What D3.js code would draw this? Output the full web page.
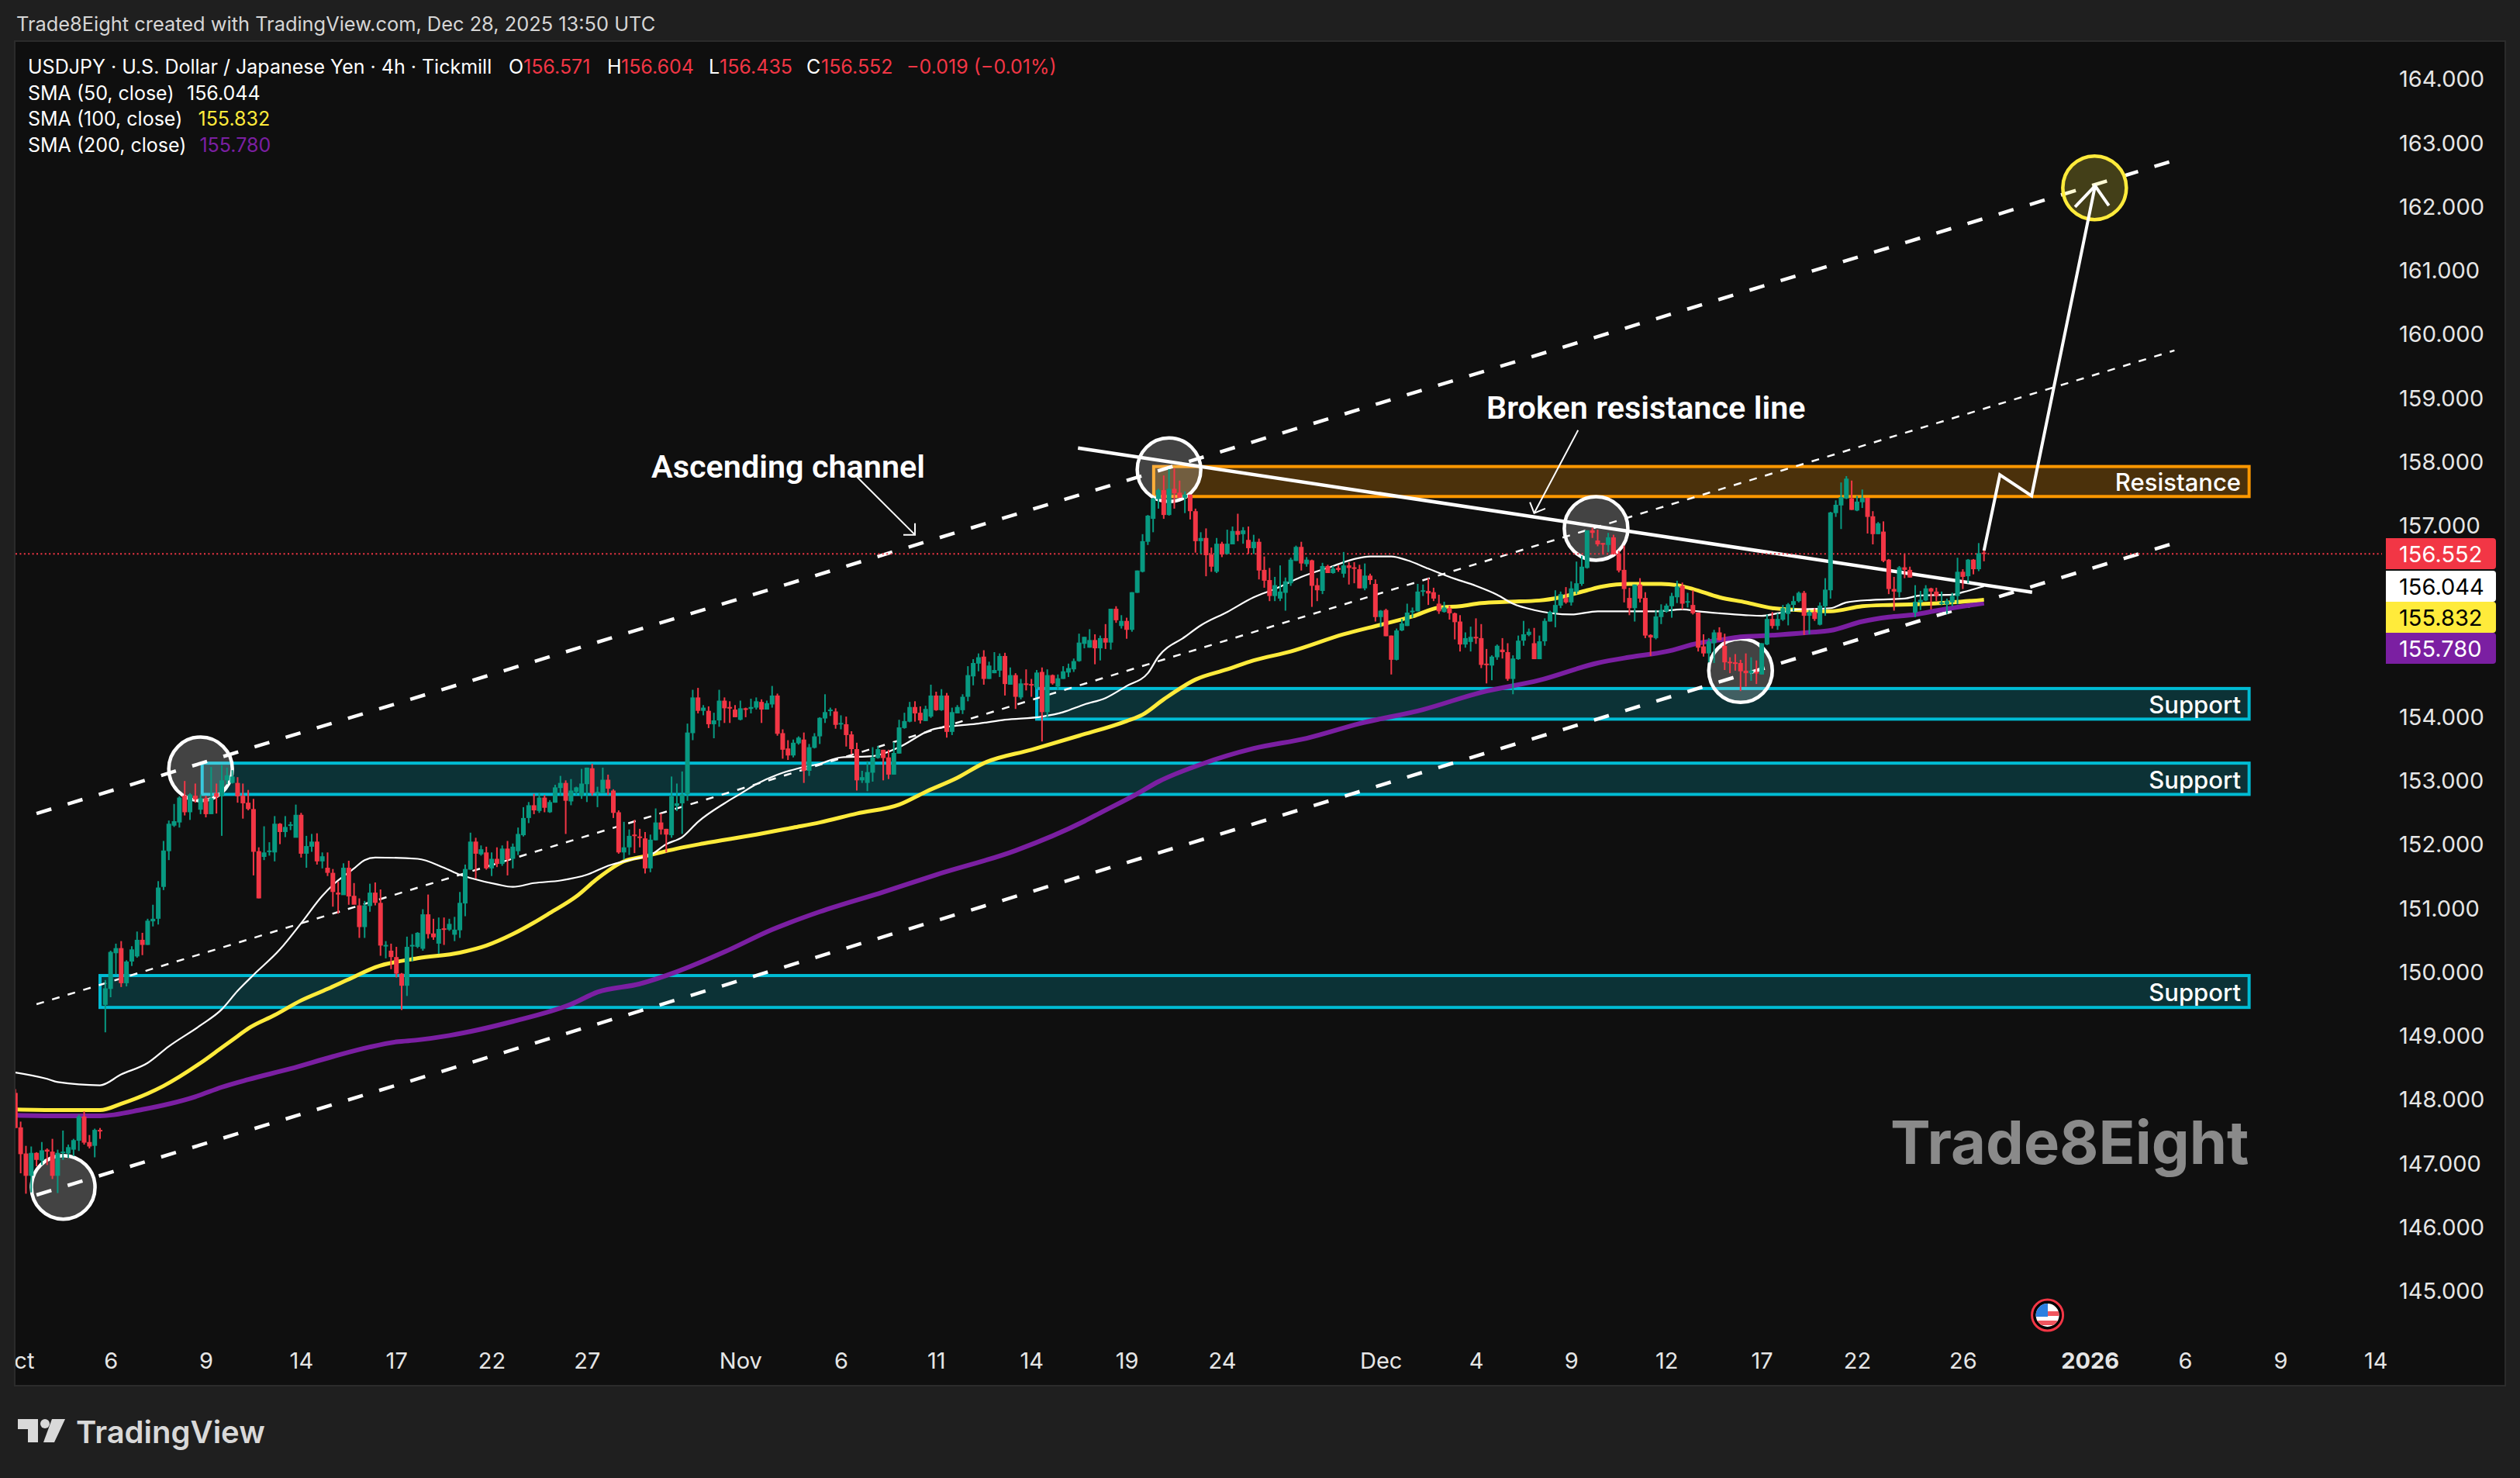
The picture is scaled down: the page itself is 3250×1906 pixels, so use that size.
<!DOCTYPE html>
<html>
<head>
<meta charset="utf-8">
<script src="https://cdn.jsdelivr.net/npm/d3@7"></script>
<style>
  html, body { margin: 0; padding: 0; background: #1f1f1f; }
  svg { display: block; }
  text { font-family: Inter, "Noto Sans", sans-serif; }
</style>
</head>
<body>
<svg id="chart" width="3250" height="1906"></svg>
<script>
// 4h bars, one line = 10 bars, last bar is the live one
var opens = [
148.1,147.56,147.15,146.8,147.16,147.04,147.21,147.18,146.8,147.16,
147.15,147.21,147.35,147.73,147.33,147.27,147.52,149.48,149.73,150.29,
150.37,149.82,150.16,150.24,150.5,150.42,150.79,150.83,151.33,151.89,
152.29,152.34,152.76,152.5,152.76,152.54,152.72,152.47,152.8,152.75,
153.0,152.96,152.96,152.76,152.65,152.55,151.89,151.8,151.88,151.87,
152.32,152.19,152.29,152.1,152.46,151.85,151.96,152.04,151.73,151.63,
151.55,151.24,151.2,151.63,151.19,151.04,150.7,151.03,151.24,151.08,
150.41,150.33,150.23,149.97,149.78,150.4,150.39,150.36,150.9,150.6,
150.44,150.68,150.66,150.58,150.65,151.07,151.6,152.04,151.84,151.87,
151.62,151.77,151.69,151.93,151.77,151.89,152.14,152.41,152.61,152.52,
152.73,152.5,152.65,152.88,152.96,152.67,152.82,152.76,152.94,153.19,
152.8,152.8,153.01,152.84,152.5,151.87,151.95,152.15,152.12,152.09,
151.62,152.06,152.34,152.24,152.14,152.6,152.64,152.78,153.74,154.3,
154.09,154.09,153.88,153.94,154.25,154.15,154.11,153.95,154.13,154.12,
154.14,154.23,154.11,154.19,154.33,153.74,153.5,153.39,153.58,153.64,
153.15,153.51,153.69,153.97,154.09,154.08,153.88,153.88,153.72,153.49,
153.0,152.96,153.12,153.35,153.48,153.36,153.09,153.42,153.82,153.92,
154.15,154.06,153.93,154.0,154.33,154.1,154.33,153.76,154.05,154.1,
154.31,154.63,154.83,154.94,154.59,154.68,154.72,154.95,154.5,154.65,
154.3,154.52,154.51,154.46,154.7,154.07,154.65,154.47,154.59,154.69,
154.74,154.87,155.14,155.08,155.2,155.07,155.23,155.16,155.69,155.42,
155.5,155.36,155.94,156.27,156.74,157.1,157.41,157.55,157.16,157.57,
157.51,157.43,157.48,157.22,156.75,156.8,156.54,156.27,156.71,156.55,
156.7,156.91,156.86,156.77,156.64,156.74,156.3,156.14,155.89,155.85,
155.94,156.09,156.44,156.66,156.39,156.45,156.06,155.97,156.36,156.25,
156.33,156.24,156.37,156.34,156.31,156.01,156.21,156.08,155.56,155.67,
155.27,154.89,155.35,155.42,155.65,155.65,155.96,155.97,155.95,155.77,
155.64,155.7,155.62,155.49,155.13,155.17,155.25,155.23,154.83,154.8,
154.93,155.05,155.01,154.59,154.9,155.19,155.28,155.15,154.9,155.18,
155.49,155.63,155.74,155.86,155.79,155.96,156.08,156.33,156.92,156.76,
156.72,156.69,156.81,156.55,156.3,155.86,155.7,156.07,155.86,155.28,
155.23,155.56,155.65,155.73,155.87,156.05,155.8,155.75,155.63,155.1,
154.99,155.15,155.32,155.11,154.86,154.85,154.84,154.72,154.68,154.7,
154.66,155.13,155.53,155.42,155.52,155.61,155.75,155.81,155.94,155.58,
155.64,155.44,155.73,155.98,157.19,157.31,157.42,157.42,157.23,157.36,
157.43,157.14,156.86,156.9,156.46,156.0,155.95,156.34,156.3,155.63,
155.79,155.82,156.01,155.96,155.77,155.76,155.79,155.89,156.27,156.2,
156.46,156.31,156.571]

var closes = [
147.55,147.14,146.8,147.16,147.05,147.2,147.18,146.8,147.16,147.18,
147.25,147.36,147.73,147.32,147.26,147.52,147.5,149.74,150.31,150.37,
149.82,150.16,150.35,150.5,150.42,150.8,150.83,151.32,151.9,152.32,
152.36,152.73,152.5,152.78,152.7,152.72,152.47,152.72,152.74,153.0,
153.08,153.06,152.75,152.64,152.55,151.88,151.15,151.87,151.9,152.32,
152.19,152.27,152.31,152.46,151.85,151.97,152.04,151.73,151.81,151.55,
151.25,151.21,151.63,151.18,151.05,150.7,151.04,151.24,151.08,150.41,
150.42,150.23,149.97,149.78,150.39,150.42,150.61,150.9,150.59,150.54,
150.67,150.66,150.75,150.66,151.08,151.61,152.04,151.85,151.92,151.62,
151.77,151.69,151.93,151.76,151.96,152.16,152.41,152.61,152.53,152.73,
152.57,152.66,152.89,152.96,152.68,152.84,152.89,152.95,153.2,152.8,
152.82,153.01,152.87,152.49,151.87,151.95,152.13,152.13,152.11,151.62,
152.07,152.34,152.23,152.15,152.75,152.64,152.78,153.75,154.3,154.09,
154.14,153.88,153.94,154.25,154.13,154.13,153.99,154.13,154.12,154.15,
154.24,154.11,154.21,154.33,153.73,153.48,153.39,153.59,153.67,153.15,
153.52,153.69,153.98,154.07,154.11,153.87,153.9,153.71,153.49,153.0,
153.05,153.13,153.36,153.49,153.35,153.09,153.43,153.83,153.93,154.15,
154.05,153.94,154.12,154.33,154.1,154.33,153.76,154.07,154.15,154.31,
154.65,154.84,154.93,154.59,154.8,154.73,154.95,154.51,154.65,154.31,
154.52,154.5,154.5,154.69,154.07,154.65,154.52,154.6,154.71,154.76,
154.87,155.16,155.25,155.2,155.07,155.23,155.16,155.69,155.51,155.5,
155.36,155.95,156.29,156.75,157.15,157.42,157.55,157.16,157.57,157.5,
157.43,157.48,157.22,156.75,156.8,156.53,156.35,156.71,156.54,156.71,
156.91,156.85,156.92,156.64,156.74,156.29,156.13,155.89,156.06,155.96,
156.12,156.46,156.66,156.4,156.46,156.05,155.98,156.36,156.25,156.32,
156.3,156.37,156.33,156.33,156.01,156.21,156.14,155.56,155.66,155.26,
154.89,155.35,155.46,155.63,155.66,155.96,155.98,155.93,155.85,155.65,
155.71,155.62,155.48,155.13,155.23,155.25,155.23,154.81,154.81,154.94,
155.11,155.01,154.59,154.91,155.19,155.29,155.33,154.9,155.18,155.5,
155.64,155.75,155.92,155.79,156.01,156.09,156.35,156.92,156.88,156.7,
156.71,156.81,156.55,156.29,156.0,155.7,156.07,155.85,155.27,155.24,
155.57,155.67,155.74,155.89,156.04,155.77,155.81,155.62,155.08,154.99,
155.18,155.32,155.2,154.85,154.84,154.84,154.71,154.68,154.72,154.69,
155.15,155.53,155.42,155.53,155.7,155.76,155.81,155.94,155.58,155.64,
155.53,155.74,155.99,157.2,157.32,157.44,157.73,157.24,157.37,157.43,
157.13,156.86,157.03,156.44,156.0,155.96,156.34,156.3,156.18,155.8,
155.83,156.01,155.96,155.89,155.79,155.81,155.89,156.27,156.19,156.46,
156.31,156.56,156.552]

var highs = [
148.16,147.65,147.27,147.26,147.17,147.33,147.23,147.38,147.21,147.51,
147.29,147.38,147.76,147.81,147.44,147.54,147.55,149.87,150.33,150.44,
150.48,150.18,150.4,150.63,150.61,150.83,151.05,151.42,152.05,152.37,
152.63,152.75,152.99,152.8,152.95,152.78,152.76,153.21,152.95,153.24,
153.2,153.16,153.05,152.95,152.85,152.71,151.95,152.28,152.03,152.44,
152.33,152.44,152.35,152.62,152.49,152.13,152.16,152.17,151.87,151.87,
151.61,151.41,151.7,151.74,151.39,151.15,151.11,151.38,151.4,151.29,
150.48,150.44,150.39,149.98,150.55,150.59,150.62,150.98,151.21,150.83,
150.85,150.85,150.83,150.86,151.25,151.68,152.18,152.1,151.98,151.96,
151.87,151.95,151.98,152.05,152.01,152.26,152.58,152.66,152.79,152.8,
152.77,152.69,152.93,153.07,153.0,153.02,152.9,153.18,153.2,153.26,
152.9,153.2,153.09,152.86,152.53,152.35,152.23,152.38,152.24,152.19,
152.15,152.56,152.48,152.24,153.06,152.95,153.14,153.89,154.42,154.45,
154.18,154.16,154.06,154.42,154.3,154.24,154.18,154.25,154.14,154.28,
154.3,154.27,154.25,154.48,154.36,153.8,153.63,153.64,153.69,153.75,
153.57,153.74,153.99,154.35,154.14,154.13,154.02,154.0,153.77,153.59,
153.15,153.3,153.52,153.54,153.48,153.48,153.6,153.95,154.06,154.23,
154.24,154.16,154.17,154.5,154.39,154.43,154.37,154.14,154.18,154.35,
154.79,154.9,154.99,155.04,154.86,155.01,154.99,155.0,154.77,154.68,
154.59,154.74,154.59,154.73,154.77,154.74,154.66,154.66,154.79,154.83,
154.91,155.3,155.25,155.37,155.29,155.27,155.45,155.69,155.73,155.59,
155.55,155.95,156.29,156.86,157.16,157.43,157.57,157.78,157.88,157.89,
157.7,157.53,157.48,157.26,156.89,156.95,156.65,156.8,156.74,156.93,
156.98,157.18,156.97,156.98,156.85,156.79,156.51,156.33,156.19,156.37,
156.18,156.49,156.68,156.74,156.5,156.46,156.17,156.41,156.38,156.36,
156.37,156.58,156.42,156.42,156.38,156.4,156.24,156.15,155.67,155.69,
155.27,155.38,155.53,155.77,155.71,156.08,156.07,156.17,156.02,155.91,
155.8,155.74,155.63,155.59,155.32,155.41,155.54,155.45,155.06,154.96,
155.13,155.23,155.15,154.96,155.27,155.5,155.38,155.39,155.27,155.54,
155.66,155.98,155.96,156.03,156.12,156.43,156.52,156.92,156.96,156.93,
156.72,156.88,156.85,156.6,156.68,156.02,156.07,156.17,155.95,155.29,
155.67,155.76,155.77,155.94,156.13,156.1,155.94,155.98,155.63,155.29,
155.23,155.36,155.4,155.3,154.93,154.98,154.89,154.99,154.93,154.88,
155.15,155.6,155.64,155.62,155.75,155.78,155.89,155.96,155.97,155.67,
155.7,155.79,156.17,157.21,157.39,157.67,157.77,157.7,157.46,157.56,
157.43,157.22,157.05,157.06,156.47,156.19,156.36,156.55,156.35,156.06,
155.97,156.06,156.02,156.02,155.96,155.85,155.94,156.49,156.31,156.47,
156.47,156.72,156.604]

var lows = [
147.55,146.84,146.52,146.54,146.95,146.97,146.97,146.75,146.53,147.05,
147.08,147.11,147.19,147.29,147.23,147.09,147.38,149.05,149.6,149.96,
149.76,149.77,150.09,150.22,150.26,150.42,150.71,150.74,151.28,151.75,
152.27,152.26,152.45,152.38,152.65,152.47,152.42,152.47,152.48,152.13,
152.94,152.95,152.65,152.4,152.53,151.51,151.15,151.75,151.82,151.73,
152.0,152.11,152.22,152.11,151.79,151.63,151.88,151.68,151.62,151.5,
151.02,150.91,151.21,151.05,151.06,150.53,150.53,150.94,151.04,150.25,
150.21,150.04,149.91,149.4,149.62,150.16,150.37,150.33,150.52,150.5,
150.28,150.42,150.64,150.48,150.53,150.87,151.6,151.46,151.82,151.6,
151.5,151.64,151.66,151.51,151.62,151.83,152.12,152.33,152.47,152.49,
152.5,152.49,152.65,152.76,152.16,152.61,152.77,152.71,152.66,152.76,
152.58,152.8,152.77,152.41,151.85,151.76,151.83,151.86,151.95,151.54,
151.56,152.06,152.15,151.87,152.1,152.52,152.16,152.68,153.63,154.05,
154.02,153.82,153.66,153.84,153.9,153.9,153.99,153.94,153.99,154.05,
154.11,153.9,154.11,154.14,153.7,153.34,153.32,153.36,153.56,152.96,
153.07,153.5,153.57,153.9,154.01,153.81,153.8,153.53,153.41,152.84,
152.96,152.83,152.98,153.34,153.0,153.02,153.09,153.42,153.81,153.91,
153.92,153.89,153.93,153.98,154.09,154.09,153.67,153.71,154.05,154.04,
154.24,154.49,154.71,154.5,154.59,154.68,154.62,154.33,154.5,154.12,
154.27,154.41,154.31,154.43,153.61,153.98,154.5,154.42,154.59,154.62,
154.7,154.86,155.07,155.08,154.82,154.88,155.06,155.05,155.47,155.38,
155.22,155.33,155.94,156.26,156.69,156.89,157.26,157.1,157.15,157.26,
157.43,157.19,157.09,156.57,156.55,156.2,156.27,156.25,156.5,156.54,
156.7,156.75,156.71,156.55,156.55,156.15,156.02,155.81,155.81,155.81,
155.66,156.05,156.44,156.29,156.35,155.72,155.81,155.92,156.25,156.24,
156.27,156.18,156.07,156.09,156.01,155.98,156.07,155.49,155.4,155.26,
154.66,154.88,155.34,155.42,155.55,155.65,155.89,155.75,155.81,155.61,
155.63,155.52,155.21,155.02,155.08,155.02,155.14,154.76,154.52,154.57,
154.89,154.91,154.56,154.35,154.89,155.11,155.26,154.9,154.9,155.11,
155.49,155.4,155.7,155.77,155.74,155.92,156.05,156.32,156.8,156.67,
156.54,156.58,156.54,156.26,155.79,155.59,155.49,155.79,155.23,154.95,
155.21,155.45,155.63,155.55,155.78,155.68,155.71,155.6,155.02,154.94,
154.85,154.84,155.19,154.73,154.68,154.72,154.4,154.47,154.56,154.51,
154.66,155.12,155.38,155.36,155.5,155.43,155.65,155.79,155.28,155.29,
155.5,155.43,155.58,155.85,157.13,156.94,157.41,157.24,157.22,157.27,
156.87,156.7,156.86,156.42,155.92,155.66,155.87,156.17,156.18,155.56,
155.67,155.81,155.68,155.81,155.75,155.61,155.73,155.76,156.0,156.09,
156.23,156.28,156.435]

// moving averages, [bar, value]
var sma50 = [[0,148.42],[6,148.32],[8,148.27],[16,148.22],[20,148.39],[25,148.57],[29,148.83],[35,149.16],[39,149.41],[42,149.7],[45,149.95],[50,150.35],[54,150.76],[58,151.19],[60,151.36],[64,151.62],[66,151.75],[68,151.79],[76,151.77],[81,151.63],[84,151.52],[86,151.47],[91,151.37],[94,151.33],[98,151.39],[103,151.43],[108,151.52],[112,151.66],[117,151.77],[120,151.83],[123,152.0],[126,152.11],[129,152.35],[134,152.64],[137,152.79],[140,152.94],[144,153.09],[148,153.19],[152,153.26],[156,153.36],[162,153.38],[167,153.52],[173,153.79],[177,153.85],[182,153.89],[187,153.95],[194,154.0],[198,154.07],[202,154.19],[206,154.29],[210,154.48],[214,154.68],[216,154.94],[221,155.25],[224,155.43],[229,155.64],[234,155.87],[238,156.0],[243,156.19],[249,156.36],[253,156.47],[256,156.51],[260,156.51],[263,156.45],[267,156.32],[272,156.16],[276,156.05],[280,155.91],[283,155.77],[287,155.67],[294,155.6],[299,155.65],[305,155.65],[310,155.65],[315,155.68],[318,155.65],[322,155.62],[327,155.59],[330,155.58],[333,155.62],[337,155.68],[343,155.7],[346,155.79],[351,155.83],[357,155.85],[360,155.9],[366,155.91],[368,155.95],[372,156.044]]

var sma100 = [[0,147.84],[8,147.83],[16,147.83],[20,147.93],[25,148.09],[28,148.21],[35,148.57],[39,148.81],[42,148.99],[44,149.11],[49,149.32],[54,149.55],[59,149.73],[64,149.92],[68,150.07],[76,150.21],[84,150.3],[89,150.41],[94,150.59],[98,150.77],[101,150.92],[106,151.18],[110,151.46],[115,151.73],[119,151.81],[125,151.93],[130,152.01],[140,152.15],[147,152.26],[152,152.34],[159,152.48],[167,152.62],[172,152.82],[178,153.04],[183,153.27],[192,153.48],[201,153.7],[210,153.93],[213,154.03],[217,154.27],[223,154.58],[229,154.74],[234,154.88],[241,155.02],[251,155.29],[258,155.44],[264,155.57],[269,155.71],[273,155.73],[277,155.78],[282,155.8],[288,155.82],[292,155.87],[297,155.98],[300,156.04],[305,156.08],[311,156.08],[314,156.06],[317,156.0],[322,155.87],[327,155.79],[332,155.7],[337,155.67],[343,155.65],[349,155.73],[354,155.75],[359,155.76],[366,155.79],[372,155.832]]

var sma200 = [[0,147.75],[8,147.74],[16,147.74],[24,147.84],[34,148.04],[39,148.19],[44,148.31],[52,148.48],[60,148.67],[67,148.82],[72,148.9],[76,148.93],[82,149.0],[94,149.22],[105,149.49],[110,149.68],[118,149.81],[125,150.0],[134,150.31],[143,150.66],[152,150.94],[164,151.25],[174,151.52],[189,151.9],[202,152.36],[205,152.49],[212,152.79],[216,152.98],[224,153.25],[234,153.5],[244,153.66],[254,153.89],[266,154.11],[277,154.38],[288,154.57],[299,154.84],[305,154.93],[312,155.02],[318,155.15],[322,155.2],[326,155.25],[331,155.27],[339,155.32],[343,155.35],[349,155.49],[354,155.56],[359,155.6],[363,155.66],[372,155.78]]

var priceTicks = [145,146,147,148,149,150,151,152,153,154,155,156,157,158,159,160,161,162,163,164]
var timeTicks = [0,18,36,54,72,90,108,137,156,174,192,210,228,258,276,294,312,330,348,368,392,410,428,446]
var timeLabels = ['Oct','6','9','14','17','22','27','Nov','6','11','14','19','24','Dec','4','9','12','17','22','26','2026','6','9','14']

// drawings, all in [bar, price]
var channelLines = [
  {pts: [[4,152.48],[408,162.72]], w: 4.5, dash: '20,22'},
  {pts: [[4,149.49],[408,159.74]], w: 2.5, dash: '10,11'},
  {pts: [[4,146.5],[408,156.72]], w: 4.5, dash: '20,22'}
]
var supportZones = [
  {left: 193, top: 154.44, bottom: 153.96},
  {left: 35.3, top: 153.27, bottom: 152.78},
  {left: 16, top: 149.94, bottom: 149.44}
]
var resistanceZone = {left: 215.1, top: 157.92, bottom: 157.45}
var zoneRight = 422.1
var touchCircles = [[9.05,146.62],[35,153.18],[218,157.87],[298.7,156.95],[326,154.72]]
var targetCircle = [392.9,162.29]
var brokenLine = [[200.8,158.21],[381.1,155.95]]
var forecastPath = [[372,156.6],[375,157.79],[381,157.46],[393,162.32]]
var forecastHead = [[389.2,161.99],[393,162.32],[395.6,162.01]]
var channelArrow = [[159,157.76],[170,156.85]]
var channelArrowHead = [[170,157.03],[170,156.85],[167.8,156.85]]
var brokenArrow = [[295.3,158.49],[287,157.19]]
var brokenArrowHead = [[286.2,157.36],[287,157.19],[289.1,157.26]]

var lastTags = [
  {value: 156.552, text: '156.552', y: 714, fill: '#f23645', color: '#fff'},
  {value: 156.044, text: '156.044', y: 756, fill: '#ffffff', color: '#000'},
  {value: 155.832, text: '155.832', y: 796, fill: '#ffeb3b', color: '#000'},
  {value: 155.780, text: '155.780', y: 836, fill: '#7b1fa2', color: '#fff'}
]

var upColor = '#089981', downColor = '#f23645'
var cyan = '#00bcd4', orange = '#ff9800', yellow = '#ffeb3b', purple = '#7b1fa2'

var svg = d3.select('#chart')

var x = d3.scaleLinear().domain([0, 372]).range([19.8, 2558.7])
var y = d3.scaleLinear().domain([145, 164]).range([1664.4, 101.5])
var line = d3.line().x(function(d) { return x(d[0]) }).y(function(d) { return y(d[1]) })
var smooth = d3.line().x(function(d) { return x(d[0]) }).y(function(d) { return y(d[1]) }).curve(d3.curveMonotoneX)

// page frame
svg.append('rect').attr('width', 3250).attr('height', 1906).attr('fill', '#1f1f1f')
svg.append('rect').attr('x', 19).attr('y', 53).attr('width', 3212).attr('height', 1734)
  .attr('fill', '#0f0f0f').attr('stroke', '#2b2b2b').attr('stroke-width', 2)

var defs = svg.append('defs')
defs.append('clipPath').attr('id', 'plot').append('rect')
  .attr('x', 20).attr('y', 54).attr('width', 3055).attr('height', 1732)
defs.append('clipPath').attr('id', 'panel').append('rect')
  .attr('x', 20).attr('y', 54).attr('width', 3210).attr('height', 1732)
defs.append('clipPath').attr('id', 'flag').append('circle')
  .attr('cx', 2640.6).attr('cy', 1696).attr('r', 15)

var plot = svg.append('g').attr('clip-path', 'url(#plot)')

// zones
function drawZone(z, color, fill) {
  plot.append('rect')
    .attr('x', x(z.left)).attr('y', y(z.top))
    .attr('width', x(zoneRight) - x(z.left)).attr('height', y(z.bottom) - y(z.top))
    .attr('fill', fill).attr('stroke', color).attr('stroke-width', 4)
}
supportZones.forEach(function(z) { drawZone(z, cyan, 'rgba(0,188,212,0.2)') })
drawZone(resistanceZone, orange, 'rgba(255,152,0,0.25)')

function polyline(pts, w, dash) {
  plot.append('path').attr('d', line(pts)).attr('fill', 'none')
    .attr('stroke', '#fff').attr('stroke-width', w)
    .attr('stroke-dasharray', dash || null)
    .attr('stroke-linejoin', 'miter')
}

channelLines.forEach(function(l) { polyline(l.pts, l.w, l.dash) })

plot.selectAll('circle.touch').data(touchCircles).enter().append('circle')
  .attr('class', 'touch')
  .attr('cx', function(d) { return x(d[0]) }).attr('cy', function(d) { return y(d[1]) })
  .attr('r', 41).attr('fill', 'rgba(255,255,255,0.22)')
  .attr('stroke', '#fff').attr('stroke-width', 4.5)

plot.append('circle').attr('cx', x(targetCircle[0])).attr('cy', y(targetCircle[1])).attr('r', 41)
  .attr('fill', 'rgba(255,235,59,0.22)').attr('stroke', yellow).attr('stroke-width', 4.5)

polyline(brokenLine, 4.5)
polyline(forecastPath, 4)
polyline(forecastHead, 4)
polyline(channelArrow, 2)
polyline(channelArrowHead, 2)
polyline(brokenArrow, 2)
polyline(brokenArrowHead, 2)

// last price line
plot.append('line').attr('x1', 20).attr('x2', 3072)
  .attr('y1', y(156.552)).attr('y2', y(156.552))
  .attr('stroke', downColor).attr('stroke-width', 2).attr('stroke-dasharray', '2,3.4')

// averages
plot.append('path').attr('d', smooth(sma200)).attr('fill', 'none').attr('stroke', purple).attr('stroke-width', 6)
plot.append('path').attr('d', smooth(sma100)).attr('fill', 'none').attr('stroke', yellow).attr('stroke-width', 5)
plot.append('path').attr('d', smooth(sma50)).attr('fill', 'none').attr('stroke', '#fff').attr('stroke-width', 2.2)

// candles
var bars = d3.range(opens.length)
var candle = plot.selectAll('g.bar').data(bars).enter().append('g').attr('class', 'bar')
function barColor(i) { return closes[i] >= opens[i] ? upColor : downColor }
candle.append('rect')
  .attr('x', function(i) { return x(i) - 1 }).attr('width', 2)
  .attr('y', function(i) { return y(highs[i]) })
  .attr('height', function(i) { return y(lows[i]) - y(highs[i]) })
  .attr('fill', barColor)
candle.append('rect')
  .attr('x', function(i) { return x(i) - 3 }).attr('width', 6)
  .attr('y', function(i) { return y(Math.max(opens[i], closes[i])) })
  .attr('height', function(i) { return Math.max(2, Math.abs(y(opens[i]) - y(closes[i]))) })
  .attr('fill', barColor)

// annotation text
function note(str, px, py, size, weight, anchor, fill) {
  return svg.append('text').attr('x', px).attr('y', py)
    .attr('font-size', size).attr('font-weight', weight)
    .attr('text-anchor', anchor || 'start').attr('dominant-baseline', 'central')
    .attr('fill', fill || '#fff').text(str)
}
note('Ascending channel', 840, 602, 41.4, 600).style('font-family', 'Roboto')
note('Broken resistance line', 1917, 526, 41.4, 600).style('font-family', 'Roboto')
note('Resistance', 2890, y((resistanceZone.top + resistanceZone.bottom) / 2) + 1, 31, 500, 'end')
supportZones.forEach(function(z) {
  note('Support', 2890, y((z.top + z.bottom) / 2) + 1, 31, 500, 'end')
})
svg.append('text').attr('x', 2438).attr('y', 1501).attr('font-size', 77.6).attr('font-weight', 700)
  .attr('fill', '#8a8a8a').text('Trade8Eight')

// axes
var priceAxis = d3.axisRight(y).tickValues(priceTicks).tickFormat(d3.format('.3f')).tickSize(0).tickPadding(0)
var priceG = svg.append('g').attr('transform', 'translate(3094,1)').call(priceAxis)
priceG.select('.domain').remove()
priceG.selectAll('text').attr('fill', '#e6e6e6').attr('font-size', 29).attr('font-family', 'Inter')

var timeAxis = d3.axisBottom(x).tickValues(timeTicks)
  .tickFormat(function(d, i) { return timeLabels[i] }).tickSize(0).tickPadding(0)
var timeG = svg.append('g').attr('clip-path', 'url(#panel)').append('g').attr('transform', 'translate(0,1744)').call(timeAxis)
timeG.select('.domain').remove()
timeG.selectAll('text').attr('fill', '#e6e6e6').attr('font-size', 29).attr('font-family', 'Inter')
  .attr('font-weight', function(d, i) { return timeLabels[i] == '2026' ? 700 : 400 })

// value tags on the scale
lastTags.forEach(function(t) {
  svg.append('path')
    .attr('d', 'M3077,' + (t.y - 20) + 'h138a4,4 0 0 1 4,4v32a4,4 0 0 1 -4,4h-138z')
    .attr('fill', t.fill)
  note(t.text, 3094, t.y, 29, 400, 'start', t.color)
})

// header and legend
note('Trade8Eight created with TradingView.com, Dec 28, 2025 13:50 UTC', 21, 30.5, 25.4, 400, 'start', '#d6d6d6')
var legend = [
  ['USDJPY · U.S. Dollar / Japanese Yen · 4h · Tickmill', 36, 85.7, '#fff'],
  ['O', 656, 85.7, '#fff'], ['156.571', 675, 85.7, downColor],
  ['H', 783, 85.7, '#fff'], ['156.604', 801, 85.7, downColor],
  ['L', 914, 85.7, '#fff'], ['156.435', 928, 85.7, downColor],
  ['C', 1040, 85.7, '#fff'], ['156.552', 1059, 85.7, downColor],
  ['−0.019 (−0.01%)', 1169, 85.7, downColor],
  ['SMA (50, close)', 36, 119.5, '#fff'], ['156.044', 241, 119.5, '#fff'],
  ['SMA (100, close)', 36, 153, '#fff'], ['155.832', 255.5, 153, yellow],
  ['SMA (200, close)', 36, 187, '#fff'], ['155.780', 257.4, 187, purple]
]
legend.forEach(function(l) { note(l[0], l[1], l[2], 25, 400, 'start', l[3]) })

// earnings style flag marker
svg.append('circle').attr('cx', 2640.6).attr('cy', 1696).attr('r', 20)
  .attr('fill', '#000').attr('stroke', downColor).attr('stroke-width', 3)
var flag = svg.append('g').attr('clip-path', 'url(#flag)')
flag.append('rect').attr('x', 2625).attr('y', 1681).attr('width', 31).attr('height', 30).attr('fill', '#fff')
;[1691, 1703].forEach(function(s) {
  flag.append('rect').attr('x', 2625).attr('y', s).attr('width', 31).attr('height', 6).attr('fill', '#f0565f')
})
flag.append('rect').attr('x', 2625).attr('y', 1681).attr('width', 16).attr('height', 17).attr('fill', '#2b7fe0')

// logo
var logo = svg.append('g').attr('fill', '#d9d9d9')
logo.append('path').attr('d', 'M23,1830h26v30h-13v-17h-13z')
logo.append('circle').attr('cx', 58).attr('cy', 1836).attr('r', 6)
logo.append('path').attr('d', 'M67,1830h17l-14,30h-14z')
svg.append('text').attr('x', 98).attr('y', 1861).attr('font-size', 40).attr('font-weight', 600)
  .attr('fill', '#d9d9d9').text('TradingView')
</script>
</body>
</html>
